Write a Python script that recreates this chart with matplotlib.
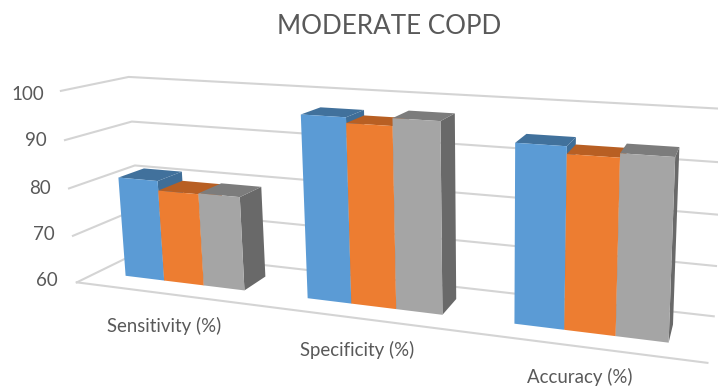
import numpy as np
import matplotlib
matplotlib.use("Agg")
import matplotlib.pyplot as plt
from matplotlib.patches import Polygon

plt.rcParams['font.family'] = ['Lato', 'DejaVu Sans']

# ---- data ----
categories = ["Sensitivity (%)", "Specificity (%)", "Accuracy (%)"]
series_a = [81.3, 97.0, 94.3]
series_b = [79.3, 95.9, 92.9]
series_c = [79.5, 97.4, 93.7]
yticks = [60, 70, 80, 90, 100]
title = "MODERATE COPD"

front_colors = ["#5B9BD5", "#ED7D31", "#A5A5A5"]
top_colors = ["#41719C", "#B85F23", "#7C7C7C"]
side_colors = ["#3F6E98", "#AE5A22", "#696969"]

# ---- camera: (u, depth, z) -> pixel, calibrated on the chart frame ----
frame_3d = np.array([
    (0, 0, 0), (0, 1, 0), (0, 0, 1), (0, 1, 1), (0, 0, .5), (0, 1, .5),
    (1, 0, 0), (1, 1, 0), (1, 1, .5), (1, 1, 1), (1, 0, 1)], float)
frame_px = np.array([
    (78, 281), (140, 253), (60, 92), (130, 76), (68, 188), (135, 165),
    (703, 362), (718, 317), (718, 214), (718, 108), (723, 132)], float)

A, b = [], []
for (X, Y, Z), (px, py) in zip(frame_3d, frame_px):
    A.append([X, Y, Z, 1, 0, 0, 0, 0, -px * X, -px * Y, -px * Z])
    A.append([0, 0, 0, 0, X, Y, Z, 1, -py * X, -py * Y, -py * Z])
    b += [px, py]
cam = np.append(np.linalg.lstsq(np.array(A), np.array(b), rcond=None)[0], 1).reshape(3, 4)


def proj(u, d, v):
    z = (v - yticks[0]) / (yticks[-1] - yticks[0])
    h = cam @ np.array([u, d, z, 1.0])
    return h[0] / h[2], h[1] / h[2]


fig = plt.figure(figsize=(7.18, 3.91), dpi=100)
ax = fig.add_axes([0, 0, 1, 1])
ax.set_xlim(0, 718)
ax.set_ylim(391, 0)
ax.axis("off")

grid = "#D4D4D4"
for v in yticks:
    pts = [proj(0, 0, v), proj(0, 1, v), proj(1, 1, v)]
    ax.plot(*zip(*pts), color=grid, lw=1.5, solid_joinstyle="miter", zorder=1)
ax.plot(*zip(proj(0, 0, 60), proj(1, 0, 60)), color=grid, lw=1.5, zorder=1)

series = [series_a, series_b, series_c]
n_cat, n_ser = len(categories), len(series)
gap = 1.5
d0, d1 = 0.3, 0.7
bw = (1 / n_cat) / (n_ser + gap)
base = yticks[0]
z = 2
for i in range(n_cat):
    for s in range(n_ser):
        u0 = i / n_cat + (gap / 2 + s) * bw
        u1 = u0 + bw
        v = series[s][i]
        ax.add_patch(Polygon([proj(u1, d0, base), proj(u1, d1, base), proj(u1, d1, v), proj(u1, d0, v)],
                             fc=side_colors[s], ec="none", zorder=z))
        ax.add_patch(Polygon([proj(u0, d0, v), proj(u1, d0, v), proj(u1, d1, v), proj(u0, d1, v)],
                             fc=top_colors[s], ec="none", zorder=z))
        ax.add_patch(Polygon([proj(u0, d0, base), proj(u1, d0, base), proj(u1, d0, v), proj(u0, d0, v)],
                             fc=front_colors[s], ec="none", zorder=z))
        z += 1

txt = "#595959"
ax.text(389, 26, title, ha="center", va="center", fontsize=18.7, color=txt)
tick_px = [(58, 281), (55, 235), (51, 188), (47, 141), (44, 94)]
for t, (x, y) in zip(yticks, tick_px):
    ax.text(x, y, str(t), ha="right", va="center", fontsize=13.5, color=txt)
label_px = [(164, 326), (357, 350), (580, 377)]
for c, (x, y) in zip(categories, label_px):
    ax.text(x, y, c, ha="center", va="center", fontsize=13.4, color=txt)

fig.savefig("out.png", dpi=100)
